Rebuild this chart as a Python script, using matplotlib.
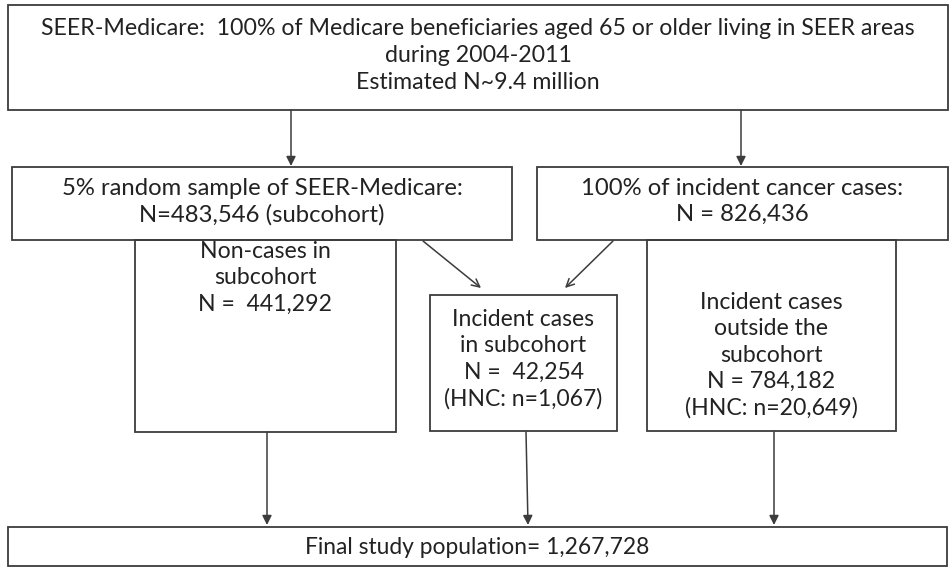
import matplotlib.pyplot as plt
from matplotlib.patches import Rectangle

plt.rcParams['font.family'] = ['Lato', 'DejaVu Sans']

# box texts
top_text = ["SEER-Medicare:  100% of Medicare beneficiaries aged 65 or older living in SEER areas",
            "during 2004-2011",
            "Estimated N~9.4 million"]
sample_text = ["5% random sample of SEER-Medicare:", "N=483,546 (subcohort)"]
cancer_text = ["100% of incident cancer cases:", "N = 826,436"]
noncase_text = ["Non-cases in", "subcohort", "N =  441,292"]
insub_text = ["Incident cases", "in subcohort", "N =  42,254", "(HNC: n=1,067)"]
outside_text = ["Incident cases", "outside the", "subcohort", "N = 784,182", "(HNC: n=20,649)"]
final_text = ["Final study population= 1,267,728"]

EDGE = '#3c3c3c'

fig = plt.figure(figsize=(9.52, 5.69), dpi=100)
ax = fig.add_axes([0, 0, 1, 1])
ax.set_xlim(0, 952)
ax.set_ylim(569, 0)
ax.axis('off')


def box(x0, y0, x1, y1, lines, y_first, fs, step=26.5):
    ax.add_patch(Rectangle((x0, y0), x1 - x0, y1 - y0, fill=False,
                           edgecolor=EDGE, linewidth=1.3))
    cx = (x0 + x1) / 2
    for i, s in enumerate(lines):
        ax.text(cx, y_first + i * step, s, ha='center', va='center',
                fontsize=fs, color='#222222')


def arrow(x0, y0, x1, y1, style='-|>'):
    ax.annotate('', xy=(x1, y1), xytext=(x0, y0),
                arrowprops=dict(arrowstyle=style, color=EDGE, lw=1.1,
                                mutation_scale=14, shrinkA=0, shrinkB=0))


box(8, 5, 948, 110, top_text, 28, 16.7, step=27)
box(12, 167, 512, 240, sample_text, 188, 17.2)
box(537, 167, 948, 240, cancer_text, 188, 17.2)
box(135, 240, 396, 432, noncase_text, 251, 16.6)
box(430, 295, 617, 431, insub_text, 319, 16.5)
box(647, 240, 896, 431, outside_text, 302, 16.6)
box(8, 527, 947, 566, final_text, 547, 16.4)

arrow(291, 110, 291, 166)
arrow(741, 110, 741, 166)
arrow(423, 241, 481, 288, style='->')
arrow(613, 241, 565, 288, style='->')
arrow(267, 432, 267, 525)
arrow(526, 432, 528, 525)
arrow(774, 432, 774, 525)

fig.savefig('out.png', dpi=100, facecolor='white')
